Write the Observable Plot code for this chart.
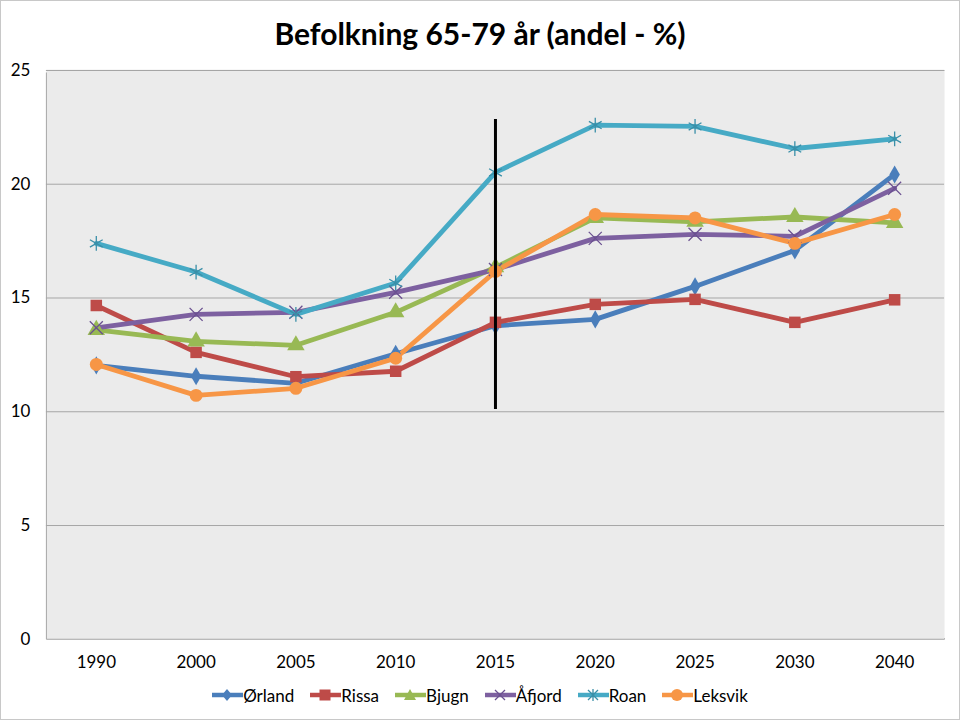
<!DOCTYPE html>
<html>
<head>
<meta charset="utf-8">
<script src="https://cdn.jsdelivr.net/npm/d3@7"></script>
<script src="https://cdn.jsdelivr.net/npm/@observablehq/plot@0.6"></script>
<style>
  html, body { margin: 0; padding: 0; background: #fff; }
  #wrap { width: 960px; height: 720px; box-sizing: border-box; border: 1px solid #c8c8c8; position: relative; overflow: hidden; font-family: Lato, "Open Sans", sans-serif; }
  #title { height: 54px; text-align: center; font-weight: 700; font-size: 30px; line-height: 64px; color: #000; }
  #legend { display: flex; justify-content: center; align-items: center; gap: 16px; font-size: 17px; color: #000; margin-top: 1px; margin-left: 0px; }
  #legend .item { display: flex; align-items: center; gap: 0px; }
</style>
</head>
<body>
<div id="wrap">
  <div id="title">Befolkning 65-79 år (andel - %)</div>
  <div id="chart"></div>
  <div id="legend"></div>
</div>
<script>
const years = ["1990","2000","2005","2010","2015","2020","2025","2030","2040"];
const orland  = [12.04, 11.56, 11.25, 12.55, 13.78, 14.06, 15.51, 17.09, 20.43];
const rissa   = [14.67, 12.61, 11.54, 11.78, 13.93, 14.72, 14.94, 13.93, 14.92];
const bjugn   = [13.60, 13.09, 12.92, 14.37, 16.35, 18.52, 18.35, 18.56, 18.30];
const afjord  = [13.69, 14.28, 14.37, 15.25, 16.25, 17.62, 17.80, 17.71, 19.82];
const roan    = [17.40, 16.14, 14.28, 15.66, 20.52, 22.60, 22.54, 21.57, 21.99];
const leksvik = [12.08, 10.72, 11.03, 12.35, 16.17, 18.67, 18.52, 17.40, 18.67];
const seriesNames = ["Ørland","Rissa","Bjugn","Åfjord","Roan","Leksvik"];
const seriesValues = [orland, rissa, bjugn, afjord, roan, leksvik];
const seriesColors = ["#4a7ebb","#be4b48","#98b954","#7d60a0","#46aac5","#f79646"];
const seriesSymbols = ["diamond","square","triangle","times","asterisk","circle"];
const yTicks = [0, 5, 10, 15, 20, 25];
const markerYear = "2015";
const markerRange = [10.1, 22.85];

const rows = [];
seriesNames.forEach((name, i) => {
  years.forEach((yr, j) => rows.push({series: name, year: yr, value: seriesValues[i][j]}));
});

const filled = new Set(["diamond","square","triangle","circle"]);
const marks = [
  Plot.frame({fill: "#ebebeb", stroke: "#a6a6a6", strokeDasharray: "900,569,1469"}),
  Plot.ruleY(yTicks.slice(1), {stroke: "#a6a6a6", strokeWidth: 1})
];
seriesNames.forEach((name, i) => {
  const data = rows.filter(d => d.series === name);
  marks.push(Plot.line(data, {x: "year", y: "value", stroke: seriesColors[i], strokeWidth: 4.8, strokeLinejoin: "round"}));
});
seriesNames.forEach((name, i) => {
  const data = rows.filter(d => d.series === name);
  const sym = seriesSymbols[i];
  const sizes = {diamond: 5.5, square: 6.5, triangle: 6.5, times: 6, asterisk: 7, circle: 6.5};
  if (filled.has(sym)) {
    marks.push(Plot.dot(data, {x: "year", y: "value", symbol: () => sym, r: sizes[sym], fill: seriesColors[i], stroke: "none"}));
  } else {
    marks.push(Plot.dot(data, {x: "year", y: "value", symbol: () => sym, r: sizes[sym], stroke: sym === "asterisk" ? "#3a8fa8" : "#6a5090", strokeWidth: 1.3, fill: "none"}));
  }
});
marks.push(Plot.ruleX([markerYear], {x: d => d, y1: markerRange[0], y2: markerRange[1], stroke: "#000", strokeWidth: 3}));

const chart = Plot.plot({
  width: 960,
  height: 630,
  marginTop: 15,
  marginBottom: 45,
  marginLeft: 45,
  marginRight: 15,
  style: {fontFamily: "Lato, 'Open Sans', sans-serif", fontSize: "17px", color: "#000", background: "transparent", overflow: "visible"},
  x: {type: "point", domain: years, padding: 0.5, label: null, tickSize: 0, tickPadding: 17},
  y: {domain: [0, 25], ticks: yTicks, label: null, tickSize: 0, tickPadding: 16},
  symbol: {type: "identity"},
  marks
});
document.getElementById("chart").appendChild(chart);

const legend = document.getElementById("legend");
seriesNames.forEach((name, i) => {
  const item = document.createElement("div");
  item.className = "item";
  const sym = seriesSymbols[i];
  let shape = "";
  const c = seriesColors[i];
  if (sym === "diamond") shape = `<path d="M15,3 L20,9 L15,15 L10,9 Z" fill="${c}"/>`;
  else if (sym === "square") shape = `<rect x="9.5" y="3.5" width="11" height="11" fill="${c}"/>`;
  else if (sym === "triangle") shape = `<path d="M15,3 L21,14 L9,14 Z" fill="${c}"/>`;
  else if (sym === "times") shape = `<path d="M10,4 L20,14 M20,4 L10,14" stroke="#6a5090" stroke-width="1.3"/>`;
  else if (sym === "asterisk") shape = `<path d="M10,4 L20,14 M20,4 L10,14 M15,3 L15,15" stroke="#3a8fa8" stroke-width="1.3"/>`;
  else shape = `<circle cx="15" cy="9" r="6" fill="${c}"/>`;
  item.innerHTML = `<svg width="31" height="18" style="display:block"><line x1="0" y1="9" x2="31" y2="9" stroke="${c}" stroke-width="4.5"/>${shape}</svg><span>${name}</span>`;
  legend.appendChild(item);
});
</script>
</body>
</html>
